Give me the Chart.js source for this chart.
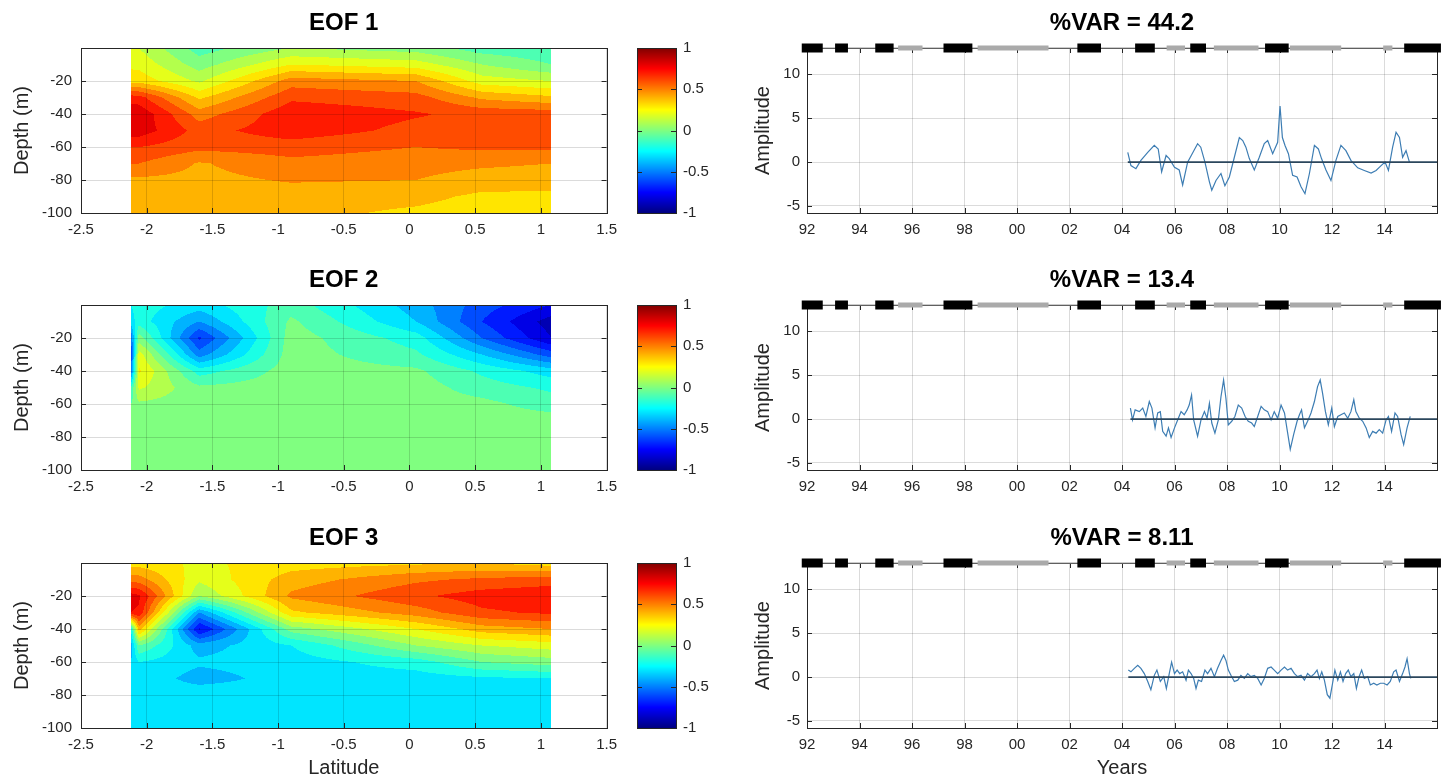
<!DOCTYPE html>
<html>
<head>
<meta charset="utf-8">
<script src="https://cdn.jsdelivr.net/npm/chart.js@4.4.1/dist/chart.umd.min.js"></script>
<style>
html, body { margin: 0; padding: 0; background: #fff; }
#fig { position: relative; width: 1448px; height: 782px; overflow: hidden; }
#fig canvas { position: absolute; }
</style>
</head>
<body>
<div id="fig"></div>
<script>
// ---- data ----

// contour grid: stations (latitude) x depth levels
var eofLat = [-2.12, -2.06, -1.6, -0.9, 0.05, 0.55, 1.08];
var eofDepth = [0, -10, -20, -30, -40, -50, -60, -70, -80, -90, -100];

// one row per latitude, values from surface to -100 m
var eof1 = [
  [0.22, 0.28, 0.35, 0.75, 0.88, 0.86, 0.70, 0.60, 0.48, 0.45, 0.45],
  [0.20, 0.27, 0.36, 0.74, 0.88, 0.86, 0.70, 0.60, 0.48, 0.45, 0.45],
  [-0.05, 0.05, 0.18, 0.38, 0.55, 0.66, 0.63, 0.49, 0.47, 0.45, 0.43],
  [0.10, 0.30, 0.55, 0.68, 0.77, 0.76, 0.65, 0.57, 0.51, 0.45, 0.43],
  [0.05, 0.25, 0.50, 0.64, 0.71, 0.67, 0.60, 0.54, 0.50, 0.43, 0.38],
  [-0.05, 0.10, 0.25, 0.48, 0.67, 0.67, 0.62, 0.52, 0.45, 0.38, 0.35],
  [-0.08, 0.00, 0.20, 0.42, 0.66, 0.67, 0.62, 0.50, 0.44, 0.38, 0.35]
];
var eof2 = [
  [-0.20, -0.25, -0.50, -0.60, -0.50, -0.10, 0.00, 0.05, 0.05, 0.05, 0.05],
  [-0.15, -0.15, 0.05, 0.25, 0.32, 0.22, 0.08, 0.05, 0.05, 0.05, 0.05],
  [-0.25, -0.40, -0.62, -0.45, -0.15, 0.02, 0.05, 0.05, 0.05, 0.05, 0.05],
  [-0.05, 0.02, 0.05, 0.05, 0.05, 0.05, 0.05, 0.05, 0.05, 0.05, 0.05],
  [-0.35, -0.30, -0.15, -0.08, 0.02, 0.05, 0.05, 0.05, 0.05, 0.05, 0.05],
  [-0.55, -0.60, -0.50, -0.30, -0.12, -0.05, 0.03, 0.05, 0.05, 0.05, 0.05],
  [-0.70, -0.85, -0.80, -0.55, -0.25, -0.12, -0.05, 0.05, 0.05, 0.05, 0.05]
];
var eof3 = [
  [0.35, 0.55, 0.85, 0.80, -0.20, -0.35, -0.30, -0.25, -0.25, -0.25, -0.25],
  [0.35, 0.55, 0.82, 0.78, 0.45, 0.00, -0.20, -0.22, -0.25, -0.25, -0.25],
  [0.28, 0.22, 0.10, -0.40, -0.72, -0.35, -0.28, -0.35, -0.22, -0.22, -0.22],
  [0.35, 0.45, 0.52, 0.38, 0.05, -0.20, -0.25, -0.25, -0.25, -0.25, -0.25],
  [0.38, 0.58, 0.68, 0.55, 0.30, 0.10, -0.15, -0.25, -0.25, -0.25, -0.25],
  [0.40, 0.62, 0.75, 0.68, 0.45, 0.20, 0.00, -0.22, -0.25, -0.25, -0.25],
  [0.35, 0.65, 0.78, 0.72, 0.50, 0.25, 0.05, -0.20, -0.25, -0.25, -0.25]
];

// amplitude time series (decimal years)
var t1 = [2004.22, 2004.34, 2004.53, 2004.72, 2004.98, 2005.23, 2005.38, 2005.51, 2005.68, 2005.8,
  2006.0, 2006.18, 2006.31, 2006.5, 2006.7, 2006.88, 2007.0, 2007.16, 2007.33, 2007.42,
  2007.58, 2007.77, 2007.92, 2008.09, 2008.28, 2008.47, 2008.6, 2008.72, 2008.85, 2009.04,
  2009.23, 2009.42, 2009.55, 2009.74, 2009.93, 2010.02, 2010.11, 2010.21, 2010.34, 2010.5,
  2010.67, 2010.82, 2010.97, 2011.14, 2011.33, 2011.48, 2011.6, 2011.77, 2011.96, 2012.15,
  2012.34, 2012.53, 2012.72, 2012.98, 2013.23, 2013.49, 2013.68, 2013.87, 2014.02, 2014.15,
  2014.31, 2014.44, 2014.57, 2014.69, 2014.82, 2014.95];
var a1 = [1.1, -0.4, -0.75, 0.2, 1.1, 1.9, 1.5, -1.1, 0.75, 0.4,
  -0.6, -0.9, -2.6, 0, 1.1, 2.1, 1.7, 0, -2.25, -3.2,
  -2.1, -1.3, -2.7, -1.7, 0.55, 2.8, 2.45, 1.7, 0.4, -0.9,
  0.55, 2.1, 2.45, 0.95, 2.25, 6.4, 2.8, 1.9, 0.95, -1.5,
  -1.7, -2.8, -3.6, -1.3, 1.9, 1.5, 0.4, -0.9, -2.1, 0.2,
  1.9, 1.3, 0.2, -0.65, -0.95, -1.25, -0.95, -0.4, 0, -0.95,
  1.7, 3.4, 2.8, 0.55, 1.3, 0];

var t2 = [2004.32, 2004.4, 2004.5, 2004.66, 2004.79, 2004.91, 2005.04, 2005.14, 2005.26, 2005.36,
  2005.46, 2005.55, 2005.68, 2005.77, 2005.87, 2006.0, 2006.12, 2006.25, 2006.37, 2006.48,
  2006.56, 2006.65, 2006.73, 2006.88, 2007.01, 2007.14, 2007.24, 2007.33, 2007.42, 2007.54,
  2007.67, 2007.77, 2007.87, 2007.96, 2008.05, 2008.18, 2008.3, 2008.43, 2008.56, 2008.69,
  2008.81, 2008.94, 2009.04, 2009.17, 2009.3, 2009.42, 2009.55, 2009.68, 2009.8, 2009.93,
  2010.06, 2010.19, 2010.29, 2010.41, 2010.54, 2010.67, 2010.76, 2010.84, 2010.95, 2011.07,
  2011.2, 2011.33, 2011.45, 2011.55, 2011.64, 2011.75, 2011.86, 2011.99, 2012.09, 2012.22,
  2012.34, 2012.47, 2012.6, 2012.72, 2012.83, 2012.91, 2013.04, 2013.17, 2013.3, 2013.42,
  2013.55, 2013.68, 2013.8, 2013.93, 2014.06, 2014.15, 2014.27, 2014.4, 2014.5, 2014.63,
  2014.73, 2014.86, 2014.98];
var a2 = [1.25, -0.1, 1.05, 0.85, 1.25, 0.3, 2.0, 1.25, -1.0, 0.7,
  0.85, -1.4, -1.95, -1.0, -2.1, -1.0, -0.1, 0.85, 0.5, 1.05,
  1.6, 2.75, -0.1, -1.95, -0.1, 0.85, 0.1, 1.8, -0.45, -1.6,
  -0.1, 2.55, 4.45, 2.35, -0.65, -0.25, 0.3, 1.6, 1.25, 0.3,
  -0.25, -0.45, -0.85, 0.3, 1.45, 1.05, 0.85, -0.1, 0.85, 0.1,
  1.6, 0.7, -1.2, -3.45, -1.75, -0.25, 0.5, 1.05, -1.0, -0.25,
  0.7, 2.0, 3.7, 4.45, 2.95, 0.85, -0.65, 1.25, -0.85, 0.3,
  0.5, 0.7, 0.1, 0.85, 2.2, 0.85, 0.1, -0.25, -1.0, -2.1,
  -1.4, -1.6, -1.2, -1.6, -0.1, 0.3, -1.4, 0.7, 0.3, -1.75,
  -2.9, -1.0, 0.3];

var t3 = [2004.24, 2004.34, 2004.47, 2004.6, 2004.72, 2004.85, 2004.98, 2005.1, 2005.23, 2005.33,
  2005.46, 2005.59, 2005.69, 2005.8, 2005.89, 2006.0, 2006.1, 2006.2, 2006.31, 2006.44,
  2006.53, 2006.63, 2006.73, 2006.82, 2006.91, 2007.03, 2007.16, 2007.26, 2007.39, 2007.52,
  2007.64, 2007.77, 2007.87, 2007.96, 2008.05, 2008.15, 2008.28, 2008.41, 2008.53, 2008.66,
  2008.79, 2008.91, 2009.04, 2009.17, 2009.3, 2009.42, 2009.55, 2009.68, 2009.8, 2009.93,
  2010.06, 2010.19, 2010.31, 2010.44, 2010.57, 2010.69, 2010.82, 2010.95, 2011.07, 2011.2,
  2011.33, 2011.43, 2011.52, 2011.61, 2011.71, 2011.82, 2011.92, 2012.01, 2012.11, 2012.22,
  2012.32, 2012.42, 2012.52, 2012.62, 2012.72, 2012.83, 2012.93, 2013.03, 2013.13, 2013.23,
  2013.36, 2013.46, 2013.59, 2013.71, 2013.84, 2013.97, 2014.1, 2014.22, 2014.35, 2014.44,
  2014.57, 2014.69, 2014.78, 2014.86, 2014.95, 2015.0];
var a3 = [0.8, 0.6, 1.0, 1.35, 1.0, 0.4, -0.5, -1.45, 0.2, 0.8,
  -0.5, 0.05, -1.3, 0.4, 1.7, 0.4, 0.8, 0.4, 0.6, -0.35,
  0.8, 0.4, -0.15, -1.3, -0.35, -0.5, 0.8, 0.4, 1.0, 0.05,
  1.0, 1.9, 2.5, 1.9, 0.8, 0.2, -0.5, -0.35, 0.2, -0.15,
  0.4, 0.05, 0.2, -0.15, -0.9, -0.15, 1.0, 1.15, 0.8, 0.4,
  0.8, 1.15, 0.8, 1.0, 0.4, 0.05, 0.2, -0.35, 0.4, 0.05,
  0.4, 0.8, -0.15, 0.6, -0.35, -2.0, -2.4, -0.9, 0.8, -0.35,
  0.6, -0.5, 0.4, 0.8, 0.05, 0.4, -1.3, 0.05, 0.8, -0.15,
  0.05, -0.9, -0.7, -0.9, -0.7, -0.7, -0.9, -0.5, 0.6, 0.8,
  -0.5, 0.4, 1.15, 2.1, 0.4, -0.15];

var varPct = ['44.2', '13.4', '8.11'];

// ENSO events drawn along the top (El Nino black, La Nina grey)
var ninoStart = [1991.8, 1993.07, 1994.6, 1997.2, 2002.3, 2004.5, 2006.6, 2009.45, 2014.75];
var ninoEnd = [1992.6, 1993.56, 1995.3, 1998.3, 2003.2, 2005.25, 2007.2, 2010.35, 2016.15];
var ninaStart = [1995.47, 1998.5, 2005.7, 2007.5, 2010.4, 2013.95];
var ninaEnd = [1996.4, 2001.2, 2006.4, 2009.2, 2012.35, 2014.3];

var ampTicks = [-5, 0, 5, 10];

// ---- drawing ----
Chart.defaults.font.family = "'Liberation Sans', Arial, Helvetica, sans-serif";
Chart.defaults.font.size = 15;
Chart.defaults.color = '#262626';

var fig = document.getElementById('fig');
var rowTop = [0, 257, 515];
var rowH = [257, 257, 267];
var gridCol = 'rgba(0,0,0,0.14)';

function makeCanvas(left, top, w, h) {
  var c = document.createElement('canvas');
  c.width = w; c.height = h;
  c.style.left = left + 'px'; c.style.top = top + 'px';
  c.style.width = w + 'px'; c.style.height = h + 'px';
  fig.appendChild(c);
  return c;
}

function plainNum(v) { return String(v); }

function jet(t) {
  function c(v) { return Math.round(255 * Math.max(0, Math.min(1, v))); }
  return 'rgb(' + c(1.5 - Math.abs(4 * t - 3)) + ',' + c(1.5 - Math.abs(4 * t - 2)) + ',' + c(1.5 - Math.abs(4 * t - 1)) + ')';
}

// filled contour levels every 0.1, coloured by the lower level
var bandCols = [];
for (var k = 0; k < 20; k++) bandCols.push(jet(k / 20));
function bandColor(v) {
  var k = Math.floor((v + 1) / 0.1 + 1e-9);
  if (k < 0) k = 0;
  if (k > 19) k = 19;
  return bandCols[k];
}

function interp(grid, lat, dep) {
  var i = 0, j = 0;
  while (i < eofLat.length - 2 && lat > eofLat[i + 1]) i++;
  while (j < eofDepth.length - 2 && dep < eofDepth[j + 1]) j++;
  var fx = (lat - eofLat[i]) / (eofLat[i + 1] - eofLat[i]);
  var fy = (dep - eofDepth[j]) / (eofDepth[j + 1] - eofDepth[j]);
  fx = Math.max(0, Math.min(1, fx));
  fy = Math.max(0, Math.min(1, fy));
  return grid[i][j] * (1 - fx) * (1 - fy) + grid[i + 1][j] * fx * (1 - fy) +
    grid[i][j + 1] * (1 - fx) * fy + grid[i + 1][j + 1] * fx * fy;
}

function contourPlugin(grid) {
  return {
    id: 'contour',
    beforeDraw: function (chart) {
      var ctx = chart.ctx, xs = chart.scales.x, ys = chart.scales.y, a = chart.chartArea;
      var x0 = Math.round(xs.getPixelForValue(eofLat[0]));
      var x1 = Math.round(xs.getPixelForValue(eofLat[eofLat.length - 1]));
      ctx.save();
      for (var py = Math.round(a.top); py < Math.round(a.bottom); py++) {
        var dep = ys.getValueForPixel(py + 0.5);
        var runStart = x0, runCol = null;
        for (var px = x0; px <= x1; px++) {
          var col = px < x1 ? bandColor(interp(grid, xs.getValueForPixel(px + 0.5), dep)) : null;
          if (col !== runCol) {
            if (runCol) { ctx.fillStyle = runCol; ctx.fillRect(runStart, py, px - runStart, 1); }
            runCol = col; runStart = px;
          }
        }
      }
      ctx.restore();
    }
  };
}

var colorbarPlugin = {
  id: 'colorbar',
  beforeDatasetsDraw: function (chart) {
    var ctx = chart.ctx, ys = chart.scales.y, a = chart.chartArea;
    for (var py = Math.round(a.top); py < Math.round(a.bottom); py++) {
      ctx.fillStyle = jet((ys.getValueForPixel(py + 0.5) + 1) / 2);
      ctx.fillRect(a.left, py, a.right - a.left, 1);
    }
  }
};

// box around the axes with short inward ticks, like the original
var framePlugin = {
  id: 'frame',
  beforeDatasetsDraw: function (chart) {
    var ctx = chart.ctx, a = chart.chartArea, L = 5;
    ctx.save();
    ctx.strokeStyle = '#262626';
    ctx.lineWidth = 1;
    ctx.beginPath();
    ['x', 'y'].forEach(function (id) {
      var s = chart.scales[id];
      if (!s || !s.options.display) return;
      s.ticks.forEach(function (t) {
        var p = Math.round(s.getPixelForValue(t.value)) + 0.5;
        if (id === 'x') {
          if (p <= a.left + 1 || p >= a.right - 1) return;
          ctx.moveTo(p, a.bottom); ctx.lineTo(p, a.bottom - L);
          ctx.moveTo(p, a.top); ctx.lineTo(p, a.top + L);
        } else {
          if (p <= a.top + 1 || p >= a.bottom - 1) return;
          ctx.moveTo(a.left, p); ctx.lineTo(a.left + L, p);
          ctx.moveTo(a.right, p); ctx.lineTo(a.right - L, p);
        }
      });
    });
    ctx.stroke();
    ctx.strokeRect(Math.round(a.left) + 0.5, Math.round(a.top) + 0.5,
      Math.round(a.right - a.left), Math.round(a.bottom - a.top));
    ctx.restore();
  }
};

function baseOpts() {
  return {
    responsive: false,
    animation: false,
    devicePixelRatio: 1,
    events: [],
    plugins: { legend: { display: false }, tooltip: { enabled: false } }
  };
}

function titleOpts(text) {
  return {
    display: true, text: text, fullSize: false, color: '#000',
    font: { size: 24, weight: 'bold', lineHeight: '28px' },
    padding: { top: 9, bottom: 11 }
  };
}

function eofChart(r, grid) {
  var h = rowH[r];
  var opts = baseOpts();
  opts.layout = { padding: { left: 0, right: 18, top: 0, bottom: 0 } };
  opts.plugins.title = titleOpts('EOF ' + (r + 1));
  opts.scales = {
    x: {
      type: 'linear', min: -2.5, max: 1.5,
      ticks: { stepSize: 0.5, padding: 8, maxRotation: 0, callback: plainNum },
      grid: { color: gridCol, drawTicks: false },
      border: { display: false },
      title: { display: r === 2, text: 'Latitude', font: { size: 20 }, padding: { top: 0, bottom: 2 } },
      afterFit: function (s) { s.height = h - 213; }
    },
    y: {
      type: 'linear', min: -100, max: 0,
      ticks: { stepSize: 20, padding: 9, callback: function (v) { return v === 0 ? '' : String(v); } },
      grid: { color: gridCol, drawTicks: false },
      border: { display: false },
      title: { display: true, text: 'Depth (m)', font: { size: 20 }, padding: { top: 10, bottom: 0 } },
      afterFit: function (s) { s.width = 81; }
    }
  };
  new Chart(makeCanvas(0, rowTop[r], 625, h), {
    type: 'scatter',
    data: { datasets: [] },
    options: opts,
    plugins: [contourPlugin(grid), framePlugin]
  });
}

function colorbarChart(r) {
  var h = rowH[r];
  var opts = baseOpts();
  opts.layout = { padding: { left: 17, right: 0, top: 48, bottom: h - 213 } };
  opts.scales = {
    x: { type: 'linear', display: false, min: 0, max: 1 },
    y: {
      type: 'linear', position: 'right', min: -1, max: 1,
      ticks: { stepSize: 0.5, padding: 7, callback: plainNum },
      grid: { display: false, drawTicks: false },
      border: { display: false },
      afterFit: function (s) { s.width = 44; }
    }
  };
  new Chart(makeCanvas(620, rowTop[r], 100, h), {
    type: 'scatter',
    data: { datasets: [] },
    options: opts,
    plugins: [colorbarPlugin, framePlugin]
  });
}

function segs(starts, ends) {
  var d = [];
  for (var i = 0; i < starts.length; i++) {
    d.push({ x: starts[i], y: 13 }, { x: ends[i], y: 13 }, { x: ends[i], y: null });
  }
  return d;
}

function ampChart(r, t, a) {
  var h = rowH[r];
  var pts = t.map(function (v, i) { return { x: v, y: a[i] }; });
  var opts = baseOpts();
  opts.layout = { padding: { left: 0, right: 11, top: 0, bottom: 0 } };
  opts.plugins.title = titleOpts('%VAR = ' + varPct[r]);
  opts.elements = { point: { radius: 0 }, line: { tension: 0, fill: false } };
  opts.scales = {
    x: {
      type: 'linear', min: 1992, max: 2016,
      ticks: { stepSize: 2, padding: 8, maxRotation: 0, callback: function (v) { return String(v).slice(2); } },
      afterBuildTicks: function (s) { s.ticks = s.ticks.filter(function (tk) { return tk.value < 2016; }); },
      grid: { color: gridCol, drawTicks: false },
      border: { display: false },
      title: { display: r === 2, text: 'Years', font: { size: 20 }, padding: { top: 0, bottom: 2 } },
      afterFit: function (s) { s.height = h - 213; }
    },
    y: {
      type: 'linear', min: -5.8, max: 13,
      afterBuildTicks: function (s) { s.ticks = ampTicks.map(function (v) { return { value: v }; }); },
      ticks: { padding: 7, callback: plainNum },
      grid: { color: gridCol, drawTicks: false },
      border: { display: false },
      title: { display: true, text: 'Amplitude', font: { size: 20 }, padding: { top: 11, bottom: 0 } },
      afterFit: function (s) { s.width = 67; }
    }
  };
  new Chart(makeCanvas(740, rowTop[r], 708, h), {
    type: 'line',
    data: {
      datasets: [
        { data: [{ x: t[0], y: 0 }, { x: 2016, y: 0 }], borderColor: '#2b465c', borderWidth: 1.6 },
        { data: pts, borderColor: '#3d7db3', borderWidth: 1.2 },
        { data: segs(ninoStart, ninoEnd), borderColor: '#000', borderWidth: 9, clip: false },
        { data: segs(ninaStart, ninaEnd), borderColor: '#aaaaaa', borderWidth: 5, clip: false },
        { data: [{ x: 1992, y: 13 }, { x: 2016, y: 13 }], borderColor: '#9a9a9a', borderWidth: 1.2, clip: false }
      ]
    },
    options: opts,
    plugins: [framePlugin]
  });
}

var eofs = [eof1, eof2, eof3];
var ts = [t1, t2, t3];
var as = [a1, a2, a3];
for (var r = 0; r < 3; r++) {
  eofChart(r, eofs[r]);
  colorbarChart(r);
  ampChart(r, ts[r], as[r]);
}
</script>
</body>
</html>
